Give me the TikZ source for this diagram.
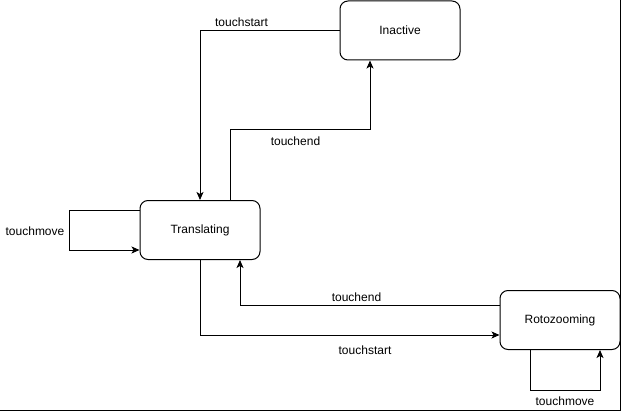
\documentclass[tikz,border=0pt]{standalone}
\usepackage{fontspec}
\setmainfont{Liberation Sans}
\usetikzlibrary{arrows.meta}
\tikzset{
  state/.style = {draw, rounded corners=8pt, minimum width=120pt, minimum height=59pt, inner sep=0pt},
  lbl/.style = {inner sep=0pt},
  edge/.style = {-{Stealth[length=8pt,width=7pt,inset=2pt]}}
}
\begin{document}
\begin{tikzpicture}[x=1pt,y=-1pt,line width=1pt,font=\fontsize{12}{14}\selectfont]
            \useasboundingbox (0,0) rectangle (622,412);
            \draw[line width=1.5pt] (620.5,0) -- (620.5,410.5) -- (0,410.5);

            \node[state] (in) at (400,30.5)  {Inactive};
            \node[state] (tr) at (200,230)   {Translating};
            \node[state] (rz) at (560,320)   {Rotozooming};

            \draw[edge] (in.west) -| (tr.north);
            \draw[edge] ([xshift=30pt]tr.north) -- ++(0,-70) -| ([xshift=-30pt]in.south);
            \draw[edge] ([yshift=20pt]tr.west) -- ++(-70,0) |- ([yshift=-20pt]tr.west);
            \draw[edge] (tr.south) |- ([yshift=-15pt]rz.west);
            \draw[edge] ([yshift=15pt]rz.west) -| ([xshift=40pt]tr.south);
            \draw[edge] ([xshift=-30pt]rz.south) -- ++(0,40) -| ([xshift=40pt]rz.south);

            \node[lbl] (l1) at (241.5,22)  {touchstart};
            \node[lbl] (l2) at (295.5,141) {touchend};
            \node[lbl] (l3) at (35,231)    {touchmove};
            \node[lbl] (l4) at (356.5,297) {touchend};
            \node[lbl] (l5) at (365,350)   {touchstart};
            \node[lbl] (l6) at (565,401)   {touchmove};
        \end{tikzpicture}
\end{document}
